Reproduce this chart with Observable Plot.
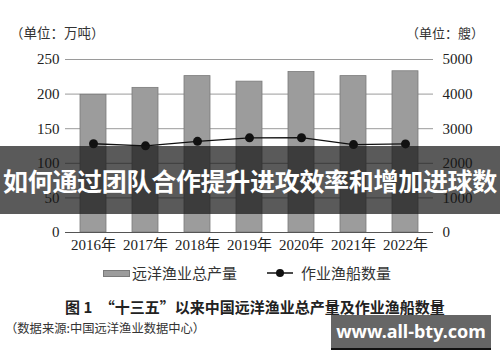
<!DOCTYPE html>
<html><head><meta charset="utf-8">
<script src="https://cdn.jsdelivr.net/npm/d3@7"></script>
<script src="https://cdn.jsdelivr.net/npm/@observablehq/plot@0.6"></script>
<style>
body{margin:0;background:#fff;}
#wrap{position:relative;width:500px;height:362px;overflow:hidden;background:#fff;font-family:"Liberation Serif","Noto Sans CJK SC",serif;color:#222;}
.abs{position:absolute;white-space:nowrap;line-height:1;}
#chart{position:absolute;left:0;top:0;}
</style></head><body>
<div id="wrap">
  <div id="chart"></div>
  <div class="abs" id="unitL" style="left:10px;top:26px;font-size:13.5px;font-family:'Noto Sans CJK SC',sans-serif;color:#333;"></div>
  <div class="abs" id="unitR" style="left:406px;top:26px;font-size:13px;font-family:'Noto Sans CJK SC',sans-serif;color:#333;"></div>
  <div class="abs" style="left:103px;top:270px;width:25px;height:5px;background:#9c9c9c;border:1px solid #7a7a7a;"></div>
  <div class="abs" id="leg1" style="left:132px;top:265px;font-size:15px;font-family:'Noto Sans CJK SC',sans-serif;color:#333;"></div>
  <svg class="abs" style="left:266px;top:266px;" width="28" height="14"><line x1="1" x2="27" y1="7" y2="7" stroke="#111" stroke-width="1.5"/><circle cx="14" cy="7" r="4" fill="#111"/></svg>
  <div class="abs" id="leg2" style="left:301px;top:265px;font-size:15px;font-family:'Noto Sans CJK SC',sans-serif;color:#333;"></div>
  <div class="abs" id="cap" style="left:65px;top:299px;font-size:15px;font-weight:bold;font-family:'Noto Sans CJK SC',sans-serif;color:#222;"></div>
  <div class="abs" id="src" style="left:5px;top:322px;font-size:12.3px;font-family:'Noto Sans CJK SC',sans-serif;color:#333;"></div>
  <div class="abs" id="banner" style="left:0;top:146px;width:500px;height:68px;background:rgba(20,20,20,0.7);color:#fff;font-weight:bold;font-size:25px;font-family:'Noto Sans CJK SC',sans-serif;line-height:68px;text-align:center;letter-spacing:-0.3px;"></div>
  <div class="abs" id="wm" style="left:331px;top:315px;width:160px;height:33px;background:#666;border-bottom:2px solid #111;color:#fff;font-weight:bold;font-size:18px;font-family:'Noto Sans','DejaVu Sans',sans-serif;line-height:33px;text-align:center;"></div>
</div>
<script>
const years = ["2016年","2017年","2018年","2019年","2020年","2021年","2022年"];
const output = [199, 209, 226, 218, 232, 226, 233];
const vessels = [2565, 2505, 2635, 2735, 2740, 2540, 2560];
const leftTicks = [0, 50, 100, 150, 200, 250];
const rightTicks = [0, 1000, 2000, 3000, 4000, 5000];
const unitLeft = "（单位：万吨）";
const unitRight = "（单位：艘）";
const legendBar = "远洋渔业总产量";
const legendLine = "作业渔船数量";
const caption = "图 1　“十三五”以来中国远洋渔业总产量及作业渔船数量";
const source = "（数据来源:中国远洋渔业数据中心）";
const bannerText = "如何通过团队合作提升进攻效率和增加进球数";
const watermark = "www.all-bty.com";

const ratio = 20; // right axis units per left axis unit
const data = years.map((y, i) => ({year: y, output: output[i], vessels: vessels[i]}));

const chart = Plot.plot({
  width: 500,
  height: 258,
  marginTop: 59,
  marginBottom: 26,
  marginLeft: 65,
  marginRight: 67,
  style: {fontFamily: "'Liberation Serif','Noto Sans CJK SC',serif", fontSize: "15px", color: "#222", background: "transparent"},
  x: {type: "band", domain: years, paddingInner: 0.5, paddingOuter: 0.25, label: null},
  y: {domain: [0, 250], label: null},
  marks: [
    Plot.ruleY(leftTicks.filter(v => v > 0), {stroke: "#9a9a9a", strokeWidth: 1}),
    Plot.barY(data, {x: "year", y: "output", fill: "#9c9c9c", stroke: "#7a7a7a", strokeWidth: 0.8}),
    Plot.ruleY([0], {stroke: "#555", strokeWidth: 1.2}),
    Plot.line(data, {x: "year", y: d => d.vessels / ratio, stroke: "#111", strokeWidth: 1.3}),
    Plot.dot(data, {x: "year", y: d => d.vessels / ratio, r: 4.5, fill: "#111"}),
    Plot.axisY(leftTicks, {anchor: "left", tickSize: 0, tickPadding: 6, label: null}),
    Plot.axisY(rightTicks.map(v => v / ratio), {anchor: "right", tickSize: 0, tickPadding: 9, tickFormat: d => String(d * ratio), label: null}),
    Plot.axisX({tickSize: 0, tickPadding: 7, label: null})
  ]
});
document.getElementById("chart").appendChild(chart);
document.getElementById("unitL").textContent = unitLeft;
document.getElementById("unitR").textContent = unitRight;
document.getElementById("leg1").textContent = legendBar;
document.getElementById("leg2").textContent = legendLine;
document.getElementById("cap").textContent = caption;
document.getElementById("src").textContent = source;
document.getElementById("banner").textContent = bannerText;
document.getElementById("wm").textContent = watermark;
</script>
</body></html>
